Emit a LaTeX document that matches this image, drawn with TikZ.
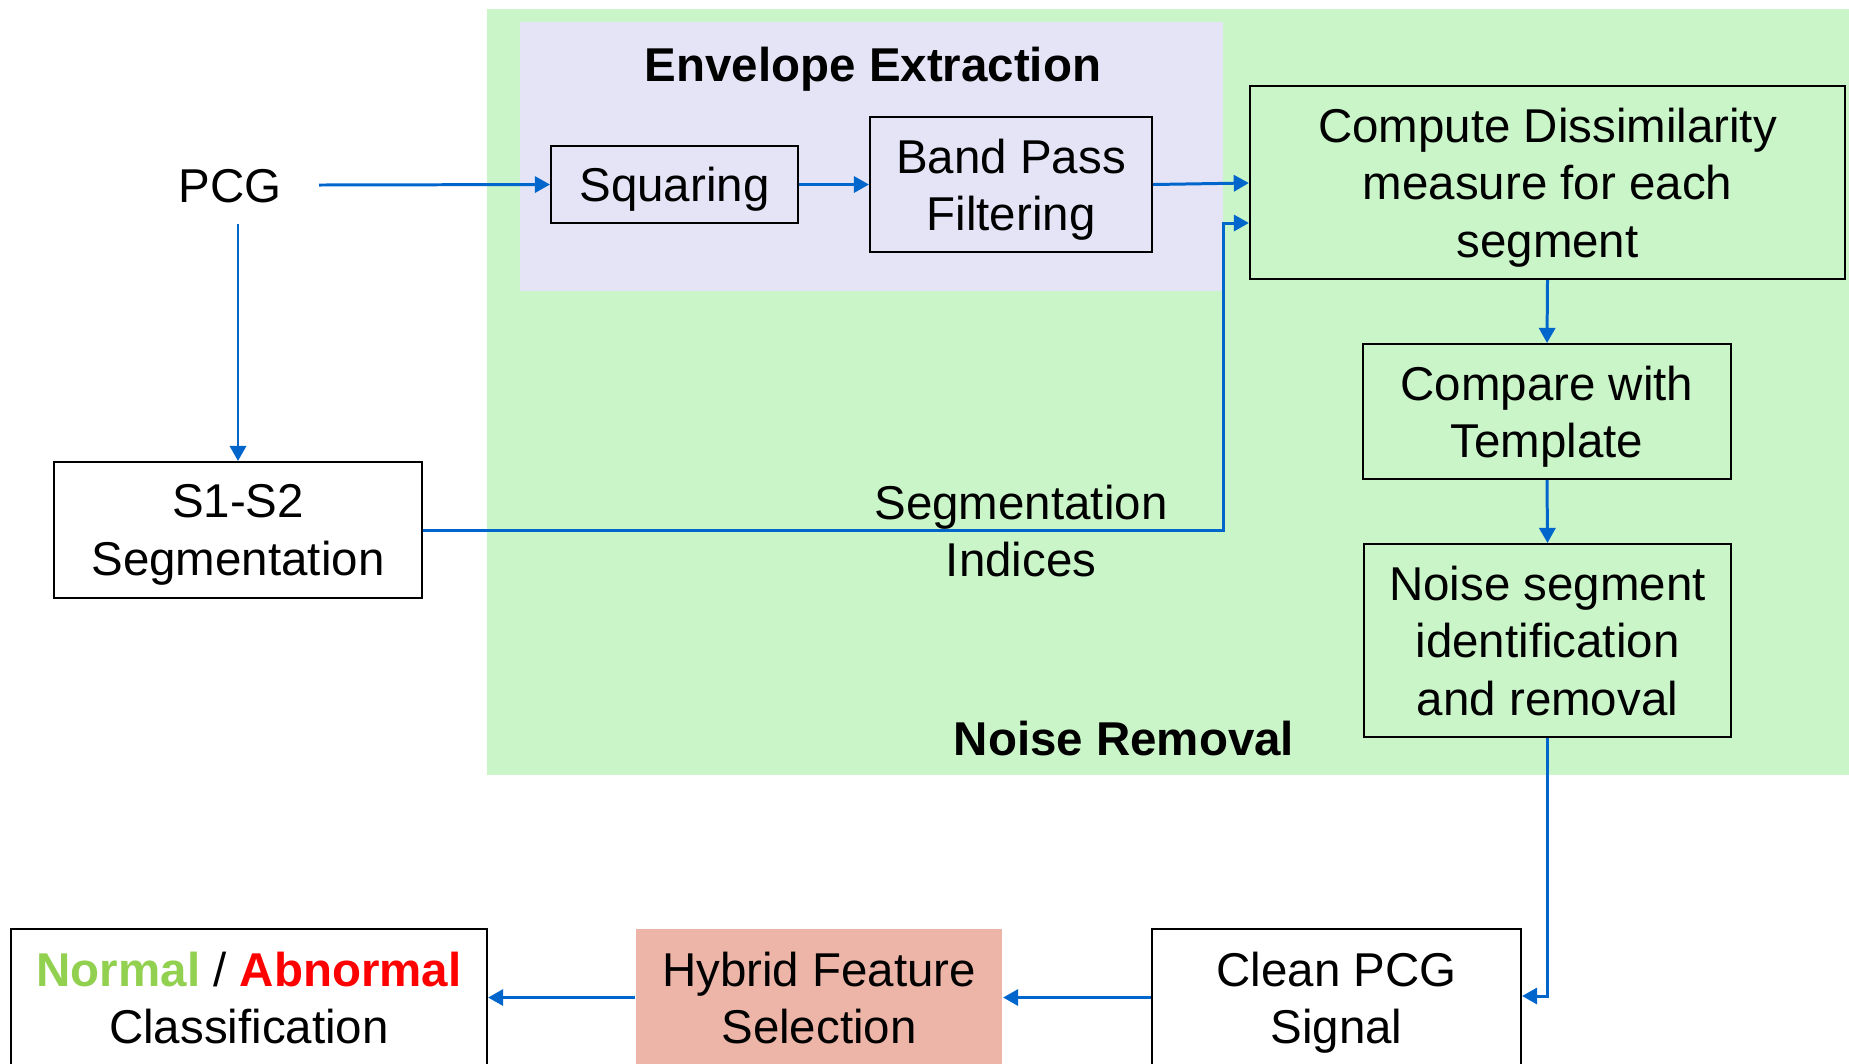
\documentclass[tikz,border=0pt]{standalone}
\usepackage{fontspec}
\setmainfont{Liberation Sans}
\usetikzlibrary{arrows.meta,calc}
\definecolor{nrgreen}{HTML}{C9F5C9}
\definecolor{envlav}{HTML}{E5E4F6}
\definecolor{hybsalmon}{HTML}{EDB5A8}
\definecolor{arrblue}{RGB}{0,102,204}
\definecolor{normgreen}{HTML}{92D050}
\tikzset{
  txt/.style={font=\fontsize{13.5}{16.3}\selectfont, align=center, inner sep=0pt, text depth=0pt},
  box/.style={txt, draw=black, line width=0.55pt},
  arr/.style={draw=arrblue, line width=0.85pt, -{Triangle[length=4.3pt,width=4.6pt]}},
  bgrect/.style={inner sep=0pt, draw=none}
}
\begin{document}
\begin{tikzpicture}[x=0.01cm,y=-0.01cm]
\useasboundingbox (0,0) rectangle (1849,1063);
\fill[white] (0,0) rectangle (1849,1063);
% backgrounds
\node[bgrect, fill=nrgreen, minimum width=13.62cm, minimum height=7.66cm] (nr) at (1168,392) {};
\node[bgrect, fill=envlav, minimum width=7.03cm, minimum height=2.69cm] (env) at (871.5,156.5) {};
\node[txt, font=\fontsize{13.5}{16.3}\selectfont\bfseries] (envt) at (873,64) {Envelope Extraction};
\node[txt, font=\fontsize{13.5}{16.3}\selectfont\bfseries] (nrt) at (1124,738) {Noise Removal};
% nodes
\node[txt, text height=9.7pt, text depth=0pt, inner xsep=10.5pt, inner ysep=6pt] (pcg) at (230,185) {PCG};
\node[box, minimum width=2.47cm, minimum height=0.77cm] (sq) at (674.5,184.5) {Squaring};
\node[box, minimum width=2.82cm, minimum height=1.35cm] (bp) at (1011,184.5) {Band Pass\\Filtering};
\node[box, minimum width=5.95cm, minimum height=1.93cm] (comp) at (1547.5,182.5) {Compute Dissimilarity\\measure for each\\segment};
\node[box, minimum width=3.68cm, minimum height=1.35cm] (cmp) at (1547,411.5) {Compare with\\Template};
\node[box, minimum width=3.67cm, minimum height=1.93cm] (noise) at (1547.5,640.5) {Noise segment\\identification\\and removal};
\node[box, fill=white, minimum width=3.68cm, minimum height=1.36cm] (s1s2) at (238,530) {S1-S2\\Segmentation};
\node[txt] (segidx) at (1021,531) {Segmentation\\Indices};
\node[box, fill=white, minimum width=3.69cm, minimum height=1.37cm] (clean) at (1336.5,997.5) {Clean PCG\\Signal};
\node[box, draw=none, fill=hybsalmon, minimum width=3.66cm, minimum height=1.37cm] (hyb) at (819,997.5) {Hybrid Feature\\Selection};
\node[box, fill=white, minimum width=4.76cm, minimum height=1.37cm] (cls) at (249,997.5) {\textbf{\textcolor{normgreen}{Normal}} / \textbf{\textcolor{red}{Abnormal}}\\Classification};
% connectors
\coordinate (compin) at ($(comp.west)+(0,40.5)$);
\draw[arr] (pcg.east) -- (sq.west);
\draw[arr] (pcg.south -| s1s2.north) -- (s1s2.north);
\draw[arr] (sq.east) -- (bp.west);
\draw[arr] (bp.east) -- ($(comp.west)+(0,0.5)$);
\draw[arr] (s1s2.east) -- (s1s2.east -| env.east) |- (compin);
\draw[arr] (comp.south) -- (cmp.north);
\draw[arr] (cmp.south) -- (noise.north);
\draw[arr] (noise.south) |- ($(clean.east)+(0,-1.5)$);
\draw[arr] (clean.west) -- (hyb.east);
\draw[arr] (hyb.west) -- (cls.east);
\end{tikzpicture}
\end{document}
